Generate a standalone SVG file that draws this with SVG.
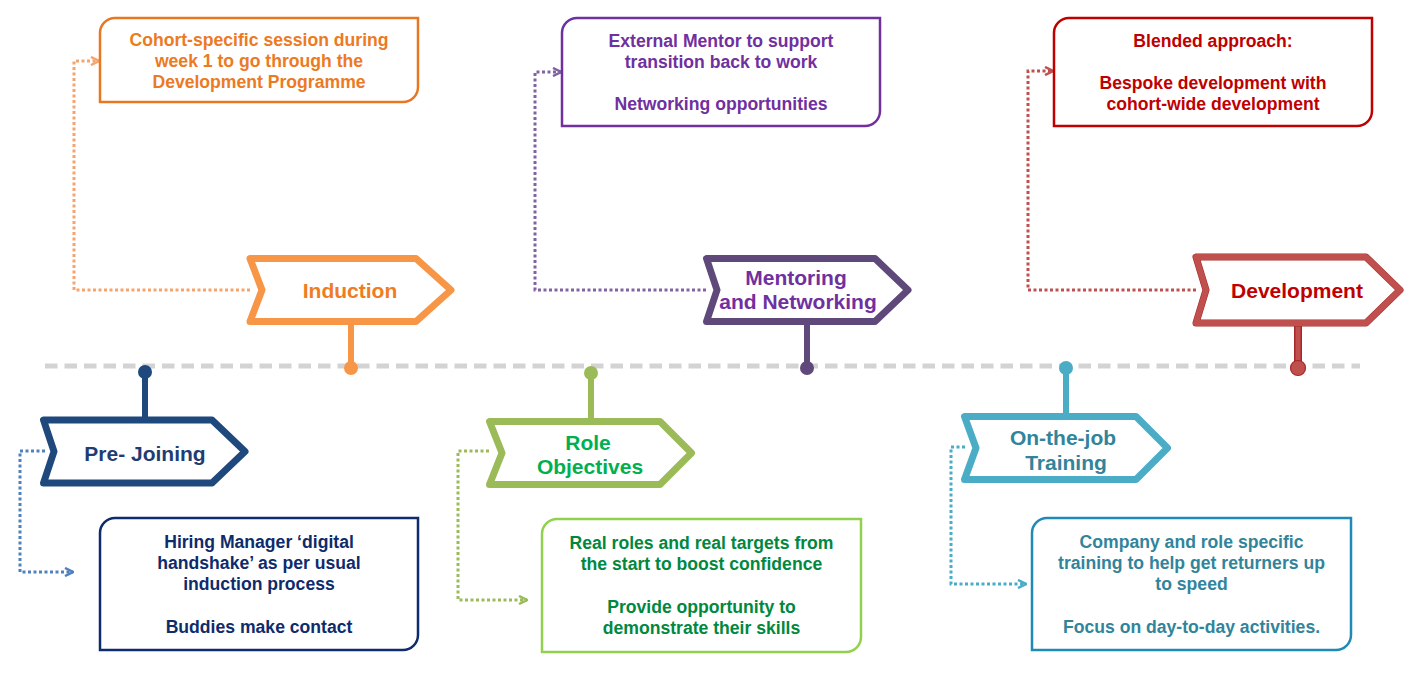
<svg xmlns="http://www.w3.org/2000/svg" width="1420" height="681" viewBox="0 0 1420 681">
<style>
text{font-family:"Liberation Sans",Arial,sans-serif;font-weight:bold;text-anchor:middle}
.bt{font-size:17.6px}
.st{font-size:21px}
.sign{fill:#fff;stroke-width:7;stroke-linejoin:round}
.box{fill:#fff;stroke-width:2.5}
.stem{stroke-width:6}
.con{fill:none;stroke-width:3;stroke-dasharray:3 2.5}
</style>
<defs>
<marker id="aO" viewBox="0 0 10 10" refX="9" refY="5" markerWidth="10" markerHeight="10" markerUnits="userSpaceOnUse" orient="auto"><path d="M1,1 L9,5 L1,9" fill="none" stroke="#F6A46E" stroke-width="2.5"/></marker>
<marker id="aP" viewBox="0 0 10 10" refX="9" refY="5" markerWidth="10" markerHeight="10" markerUnits="userSpaceOnUse" orient="auto"><path d="M1,1 L9,5 L1,9" fill="none" stroke="#8064A2" stroke-width="2.5"/></marker>
<marker id="aR" viewBox="0 0 10 10" refX="9" refY="5" markerWidth="10" markerHeight="10" markerUnits="userSpaceOnUse" orient="auto"><path d="M1,1 L9,5 L1,9" fill="none" stroke="#C0504D" stroke-width="2.5"/></marker>
<marker id="aB" viewBox="0 0 10 10" refX="9" refY="5" markerWidth="10" markerHeight="10" markerUnits="userSpaceOnUse" orient="auto"><path d="M1,1 L9,5 L1,9" fill="none" stroke="#4F81BD" stroke-width="2.5"/></marker>
<marker id="aG" viewBox="0 0 10 10" refX="9" refY="5" markerWidth="10" markerHeight="10" markerUnits="userSpaceOnUse" orient="auto"><path d="M1,1 L9,5 L1,9" fill="none" stroke="#9BBB59" stroke-width="2.5"/></marker>
<marker id="aT" viewBox="0 0 10 10" refX="9" refY="5" markerWidth="10" markerHeight="10" markerUnits="userSpaceOnUse" orient="auto"><path d="M1,1 L9,5 L1,9" fill="none" stroke="#4BACC6" stroke-width="2.5"/></marker>
</defs>

<line id="timeline" x1="45" y1="366" x2="1360" y2="366" stroke="#D3D3D3" stroke-width="5" stroke-dasharray="12.5 7"/>

<g id="connectors">
<path class="con" stroke="#F6A46E" d="M250,290 H74 V61 H99" marker-end="url(#aO)"/>
<path class="con" stroke="#8064A2" d="M706,290 H535 V72 H561" marker-end="url(#aP)"/>
<path class="con" stroke="#C0504D" d="M1196,290 H1028 V71 H1053" marker-end="url(#aR)"/>
<path class="con" stroke="#4F81BD" d="M45,451 H20 V572 H73" marker-end="url(#aB)"/>
<path class="con" stroke="#9BBB59" d="M489,451 H458 V600 H527" marker-end="url(#aG)"/>
<path class="con" stroke="#4BACC6" d="M965,447 H951 V584 H1026" marker-end="url(#aT)"/>
</g>

<g id="induction">
<line class="stem" x1="351" y1="322" x2="351" y2="368" stroke="#F79646"/>
<circle cx="351" cy="368" r="7" fill="#F79646"/>
<path class="sign" stroke="#F79646" d="M250,258.5 H416 L451,290 L416,321.5 H250 L262,290 Z"/>
<text class="st" x="350" y="297.5" fill="#F07C22">Induction</text>
</g>
<g id="induction-note">
<path class="box" stroke="#E87722" d="M100,33 A15,15 0 0 1 115,18 H418 V87 A15,15 0 0 1 403,102 H100 Z"/>
<text class="bt" fill="#EC7A22"><tspan x="259" y="46">Cohort-specific session during</tspan><tspan x="259" y="67">week 1 to go through the</tspan><tspan x="259" y="88">Development Programme</tspan></text>
</g>

<g id="mentoring">
<line class="stem" x1="807" y1="322" x2="807" y2="368" stroke="#5F497A"/>
<circle cx="807" cy="368" r="7" fill="#5F497A"/>
<path class="sign" stroke="#5F497A" d="M706.5,258.5 H875 L908,290 L875,321.5 H706.5 L717,290 Z"/>
<text class="st" fill="#7030A0"><tspan x="796" y="284.5">Mentoring</tspan><tspan x="798" y="308.5">and Networking</tspan></text>
</g>
<g id="mentoring-note">
<path class="box" stroke="#7030A0" d="M562,33 A15,15 0 0 1 577,18 H880 V111 A15,15 0 0 1 865,126 H562 Z"/>
<text class="bt" fill="#7030A0"><tspan x="721" y="47">External Mentor to support</tspan><tspan x="721" y="68">transition back to work</tspan><tspan x="721" y="110">Networking opportunities</tspan></text>
</g>

<g id="development">
<line x1="1298" y1="323" x2="1298" y2="368" stroke="#A5282A" stroke-width="8"/>
<line x1="1298" y1="323" x2="1298" y2="368" stroke="#C0504D" stroke-width="5"/>
<circle cx="1298" cy="368" r="7.5" fill="#C0504D" stroke="#A5282A" stroke-width="1.2"/>
<path class="sign" stroke="#A5282A" stroke-width="9" d="M1196,257 H1366 L1400,290 L1366,323 H1196 L1206,290 Z"/>
<path fill="none" stroke="#C0504D" stroke-width="6" stroke-linejoin="round" d="M1196,257 H1366 L1400,290 L1366,323 H1196 L1206,290 Z"/>
<text class="st" x="1297" y="297.5" fill="#C00000">Development</text>
</g>
<g id="development-note">
<path class="box" stroke="#C00000" d="M1054,33 A15,15 0 0 1 1069,18 H1372 V111 A15,15 0 0 1 1357,126 H1054 Z"/>
<text class="bt" fill="#C00000"><tspan x="1213" y="47">Blended approach:</tspan><tspan x="1213" y="89">Bespoke development with</tspan><tspan x="1213" y="110">cohort-wide development</tspan></text>
</g>

<g id="pre-joining">
<line class="stem" x1="145" y1="372" x2="145" y2="420" stroke="#1F497D"/>
<circle cx="145" cy="372" r="7" fill="#1F497D"/>
<path class="sign" stroke="#1F497D" d="M43.5,420 H212 L245,451.5 L212,483 H43.5 L54,451.5 Z"/>
<text class="st" x="145" y="460.5" fill="#1F3D73">Pre- Joining</text>
</g>
<g id="pre-joining-note">
<path class="box" stroke="#0E2B6B" d="M100,533 A15,15 0 0 1 115,518 H418 V635 A15,15 0 0 1 403,650 H100 Z"/>
<text class="bt" fill="#0E2B6B"><tspan x="259" y="548">Hiring Manager ‘digital</tspan><tspan x="259" y="569">handshake’ as per usual</tspan><tspan x="259" y="590">induction process</tspan><tspan x="259" y="633">Buddies make contact</tspan></text>
</g>

<g id="role-objectives">
<line class="stem" x1="591" y1="373" x2="591" y2="421" stroke="#9BBB59"/>
<circle cx="591" cy="373" r="7" fill="#9BBB59"/>
<path class="sign" stroke="#9BBB59" d="M489.5,421.5 H660 L691.5,453 L660,484.5 H489.5 L502,453 Z"/>
<text class="st" fill="#00B050"><tspan x="588" y="449.5">Role</tspan><tspan x="590" y="473.5">Objectives</tspan></text>
</g>
<g id="role-objectives-note">
<path class="box" stroke="#92D050" d="M542,534 A15,15 0 0 1 557,519 H861 V637 A15,15 0 0 1 846,652 H542 Z"/>
<text class="bt" fill="#00883F"><tspan x="701.5" y="549">Real roles and real targets from</tspan><tspan x="701.5" y="570">the start to boost confidence</tspan><tspan x="701.5" y="613">Provide opportunity to</tspan><tspan x="701.5" y="634">demonstrate their skills</tspan></text>
</g>

<g id="on-the-job">
<line class="stem" x1="1066" y1="368" x2="1066" y2="416" stroke="#4BACC6"/>
<circle cx="1066" cy="368" r="7" fill="#4BACC6"/>
<path class="sign" stroke="#4BACC6" d="M964.5,416.5 H1136 L1167.5,448 L1136,479.5 H964.5 L976,448 Z"/>
<text class="st" fill="#31849B"><tspan x="1063" y="444.5">On-the-job</tspan><tspan x="1066" y="469.5">Training</tspan></text>
</g>
<g id="on-the-job-note">
<path class="box" stroke="#1F8AB5" d="M1032,533 A15,15 0 0 1 1047,518 H1351 V635 A15,15 0 0 1 1336,650 H1032 Z"/>
<text class="bt" fill="#31849B"><tspan x="1191.5" y="548">Company and role specific</tspan><tspan x="1191.5" y="569">training to help get returners up</tspan><tspan x="1191.5" y="590">to speed</tspan><tspan x="1191.5" y="633">Focus on day-to-day activities.</tspan></text>
</g>
</svg>
